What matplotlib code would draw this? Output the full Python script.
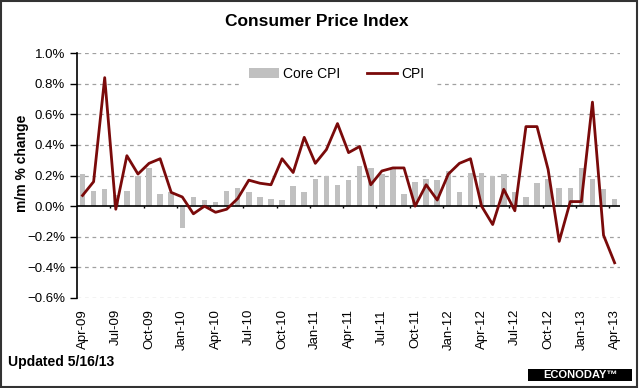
import numpy as np
import pandas as pd
import matplotlib
matplotlib.use("Agg")
import matplotlib.pyplot as plt
from matplotlib.patches import Rectangle
from matplotlib.ticker import StrMethodFormatter

plt.rcParams['font.family'] = ['Liberation Sans', 'DejaVu Sans']

# monthly categories Apr-09 .. Apr-13
months = pd.date_range('2009-04-01', periods=49, freq='MS').strftime('%b-%y').tolist()

core_cpi = [0.21, 0.10, 0.11, 0.07, 0.10, 0.20, 0.25, 0.08, 0.09, -0.14,
            0.06, 0.04, 0.03, 0.10, 0.12, 0.09, 0.06, 0.05, 0.04, 0.13,
            0.09, 0.18, 0.20, 0.14, 0.17, 0.26, 0.25, 0.21, 0.24, 0.08,
            0.16, 0.18, 0.17, 0.23, 0.09, 0.22, 0.22, 0.20, 0.21, 0.09,
            0.06, 0.15, 0.18, 0.12, 0.12, 0.25, 0.18, 0.11, 0.05]

cpi = [0.07, 0.16, 0.84, -0.02, 0.33, 0.21, 0.28, 0.31, 0.09, 0.06,
       -0.05, 0.00, -0.04, -0.02, 0.05, 0.17, 0.15, 0.14, 0.31, 0.22,
       0.45, 0.28, 0.37, 0.54, 0.35, 0.39, 0.14, 0.23, 0.25, 0.25,
       0.00, 0.14, 0.04, 0.21, 0.28, 0.31, 0.00, -0.12, 0.11, -0.03,
       0.52, 0.52, 0.24, -0.23, 0.03, 0.03, 0.68, -0.19, -0.37]

x = np.arange(len(months))

fig = plt.figure(figsize=(6.4, 3.88), dpi=100)
ax = fig.add_axes([0.1203, 0.232, 0.8487, 0.631])

ax.set_ylim(-0.6, 1.0)
ax.set_xlim(-0.5, len(months) - 0.5)
ax.set_yticks(np.arange(-0.6, 1.01, 0.2))
ax.yaxis.set_major_formatter(StrMethodFormatter('{x:.1f}%'))

# dashed grid, solid zero line
for yv in np.arange(-0.6, 1.01, 0.2):
    if abs(yv) > 1e-9:
        ax.axhline(yv, color='#a0a0a0', lw=0.9, ls=(0, (3, 3)), zorder=0)
ax.axhline(0, color='black', lw=1.2, zorder=3)

bars = ax.bar(x, core_cpi, width=0.5, color='#c0c0c0', label='Core CPI', zorder=1)
line, = ax.plot(x, cpi, color='#7a0a0a', lw=2.0, label='CPI', zorder=4)

# small tick marks on the zero line between quarters
ax.vlines(np.arange(2.5, len(months), 3), -0.012, 0, color='black', lw=1, zorder=3)

ax.set_xticks(x[::3])
ax.set_xticklabels(months[::3], rotation=90, fontsize=9.5)
ax.tick_params(axis='x', length=0, pad=8)
ax.tick_params(axis='y', labelsize=9.5, length=5, direction='out', width=1)

for s in ['top', 'right', 'bottom']:
    ax.spines[s].set_visible(False)
ax.spines['left'].set_linewidth(1.2)

ax.set_ylabel('m/m % change', fontsize=10, fontweight='bold')
ax.yaxis.set_label_coords(-0.088, 0.55)

leg = ax.legend([bars, line], ['Core CPI', 'CPI'], loc='center',
                bbox_to_anchor=(0.478, 0.914), ncol=2, frameon=True,
                fontsize=10, handlelength=2.2, columnspacing=1.9, handletextpad=0.3,
                borderpad=0.6, fancybox=False)
leg.get_frame().set_facecolor('white')
leg.get_frame().set_edgecolor('white')
leg.get_frame().set_alpha(1)

fig.text(0.495, 0.945, 'Consumer Price Index', ha='center', va='center',
         fontsize=12.5, fontweight='bold')
fig.text(0.013, 0.067, 'Updated 5/16/13', ha='left', va='center',
         fontsize=10, fontweight='bold')

# logo box
fig.patches.append(Rectangle((528 / 640, 1 - 381 / 388), 104 / 640, 12 / 388,
                             transform=fig.transFigure, facecolor='black',
                             edgecolor='none'))
fig.text(580 / 640, 1 - 375 / 388, 'ECONODAY\u2122', ha='center', va='center',
         color='white', fontsize=8, fontweight='bold')

# outer frame
fig.patches.append(Rectangle((0.002, 0.003), 0.994, 0.994, transform=fig.transFigure,
                             fill=False, edgecolor='#333333', lw=1.5))

fig.savefig('out.png', dpi=100)
